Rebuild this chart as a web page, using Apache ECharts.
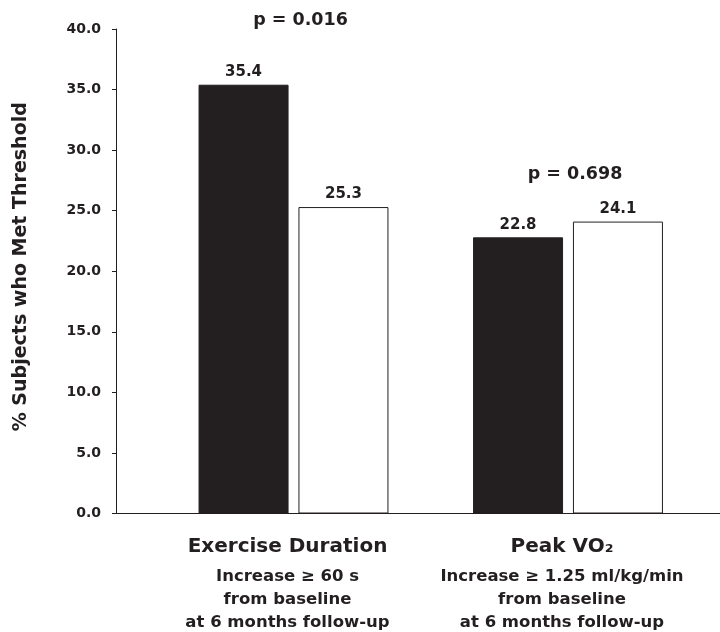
<!DOCTYPE html>
<html>
<head>
<meta charset="utf-8">
<script src="https://cdn.jsdelivr.net/npm/echarts@6/dist/echarts.min.js"></script>
<style>html,body{margin:0;padding:0;background:#fff;}#c{width:720px;height:632px;}</style>
</head>
<body>
<div id="c"></div>
<script>
// ---- data ----
const categories = ['Exercise Duration', 'Peak VO₂'];
const subtitles = [
  ['Increase ≥ 60 s', 'from baseline', 'at 6 months follow-up'],
  ['Increase ≥ 1.25 ml/kg/min', 'from baseline', 'at 6 months follow-up']
];
const seriesBlack = [35.4, 22.8];
const seriesWhite = [25.3, 24.1];
const pTexts = ['p = 0.016', 'p = 0.698'];
const pLevels = [40.7, 28.0];
const yTicks = [0, 5, 10, 15, 20, 25, 30, 35, 40];
const yTitle = '% Subjects who Met Threshold';

const FONT = 'DejaVu Sans';
const INK = '#231f20';

const chart = echarts.init(document.getElementById('c'));
const gridTop = 29, gridBottom = 118.5;

chart.setOption({
  animation: false,
  backgroundColor: '#fff',
  grid: [
    { left: 156.25, right: 14.75, top: gridTop, bottom: gridBottom },
    { left: 116, right: 0, top: gridTop, bottom: gridBottom }
  ],
  xAxis: [
    {
      type: 'category', gridIndex: 0, data: categories,
      axisLine: { show: false }, axisTick: { show: false },
      axisLabel: {
        interval: 0, margin: 15, padding: [0, 12, 0, 0],
        formatter: function (v, i) {
          return '{t|' + v + '}\n' + subtitles[i].map(s => '{s|' + s + '}').join('\n');
        },
        rich: {
          t: { fontFamily: FONT, fontWeight: 'bold', fontSize: 20, lineHeight: 37, color: INK, align: 'center' },
          s: { fontFamily: FONT, fontWeight: 'bold', fontSize: 16.5, lineHeight: 23, color: INK, align: 'center' }
        }
      }
    },
    {
      type: 'value', gridIndex: 1, min: 0, max: 1,
      axisLine: { show: true, lineStyle: { color: INK, width: 1 } },
      axisTick: { show: false }, axisLabel: { show: false }, splitLine: { show: false }
    }
  ],
  yAxis: [
    { type: 'value', gridIndex: 0, min: 0, max: 40, show: false, splitLine: { show: false } },
    {
      type: 'value', gridIndex: 1, min: 0, max: 40, interval: 5,
      axisLine: { show: true, lineStyle: { color: INK, width: 1 } },
      axisTick: { show: true, inside: false, length: 4, lineStyle: { color: INK } },
      splitLine: { show: false },
      axisLabel: {
        margin: 15, fontFamily: FONT, fontWeight: 'bold', fontSize: 14, color: INK,
        formatter: v => yTicks.includes(v) ? v.toFixed(1) : ''
      },
      name: yTitle, nameLocation: 'middle', nameGap: 85,
      nameTextStyle: { fontFamily: FONT, fontWeight: 'bold', fontSize: 19, color: INK, padding: [0, 0, 0, 9] }
    }
  ],
  series: [
    {
      name: 'Group 1', type: 'bar', xAxisIndex: 0, yAxisIndex: 0,
      data: seriesBlack, barWidth: 90, barGap: '11%',
      itemStyle: { color: INK, borderColor: INK, borderWidth: 1 },
      label: { show: true, position: 'top', distance: 5, fontFamily: FONT, fontWeight: 'bold', fontSize: 15, color: INK, formatter: p => p.value.toFixed(1) }
    },
    {
      name: 'Group 2', type: 'bar', xAxisIndex: 0, yAxisIndex: 0,
      data: seriesWhite, barWidth: 90, barGap: '11%',
      itemStyle: { color: '#fff', borderColor: INK, borderWidth: 1 },
      label: { show: true, position: 'top', distance: 5, fontFamily: FONT, fontWeight: 'bold', fontSize: 15, color: INK, formatter: p => p.value.toFixed(1) }
    }
  ]
});

// p-value annotations placed through the chart's own scales
const graphics = pTexts.map((t, i) => {
  const pt = chart.convertToPixel({ xAxisIndex: 0, yAxisIndex: 0 }, [categories[i], pLevels[i]]);
  return {
    type: 'text', x: pt[0] + 7, y: pt[1],
    style: { text: t, fontFamily: FONT, fontWeight: 'bold', fontSize: 17.5, fill: INK, align: 'center', verticalAlign: 'middle' }
  };
});
chart.setOption({ graphic: graphics });
</script>
</body>
</html>
